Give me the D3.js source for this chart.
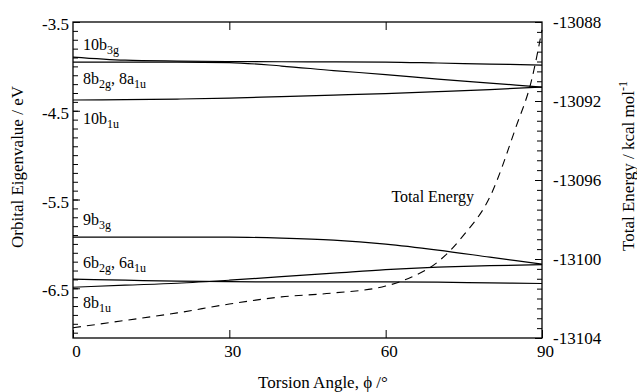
<!DOCTYPE html>
<html><head><meta charset="utf-8">
<script src="https://cdn.jsdelivr.net/npm/d3@7"></script>
<style>
body{margin:0;background:#fff;}
svg text{font-family:"Liberation Serif","DejaVu Serif","Times New Roman",serif !important;fill:#000;}
</style></head>
<body><svg id="c" width="637" height="392"></svg>
<script>
// ---- data ----
const angles = [0,10,20,30,40,50,60,70,80,90];
const orb10b3g = [-3.895,-3.93,-3.94,-3.945,-3.948,-3.949,-3.951,-3.962,-3.974,-3.985];
const orb8b2g  = [-3.951,-3.951,-3.951,-3.957,-3.996,-4.047,-4.092,-4.143,-4.188,-4.233];
const orb10b1u = [-4.379,-4.374,-4.368,-4.357,-4.34,-4.323,-4.306,-4.284,-4.261,-4.233];
const orb9b3g  = [-5.924,-5.924,-5.924,-5.924,-5.935,-5.958,-6.003,-6.07,-6.149,-6.228];
const orb6b2g  = [-6.488,-6.465,-6.443,-6.409,-6.369,-6.33,-6.29,-6.262,-6.245,-6.234];
const orb8b1u  = [-6.397,-6.409,-6.42,-6.426,-6.428,-6.428,-6.428,-6.431,-6.439,-6.446];
const energyAngles = [0,10,20,30,40,50,60,65,70,75,80,85,88,90];
const totalEnergy = [-13103.48,-13103.11,-13102.73,-13102.28,-13101.92,-13101.72,-13101.37,-13100.91,-13100.15,-13098.78,-13096.86,-13093.32,-13090.94,-13088.4];
const xTicks = [0,30,60,90];
const leftMajorTicks = [-3.5,-4.5,-5.5,-6.5];
const rightMajorTicks = [-13104,-13100,-13096,-13092,-13088];
const levelLabels = [
  {main:"10b", sub:"3g", more:"", sub2:"", val:-3.81},
  {main:"8b", sub:"2g", more:", 8a", sub2:"1u", val:-4.2},
  {main:"10b", sub:"1u", more:"", sub2:"", val:-4.65},
  {main:"9b", sub:"3g", more:"", sub2:"", val:-5.789},
  {main:"6b", sub:"2g", more:", 6a", sub2:"1u", val:-6.273},
  {main:"8b", sub:"1u", more:"", sub2:"", val:-6.724}
];

// ---- layout ----
const FONT = '"Liberation Serif","DejaVu Serif","Times New Roman",serif';
const svg = d3.select("#c");
const L=73, R=542, T=22, B=338;
const x = d3.scaleLinear().domain([0,90]).range([L,R]);
const yL = d3.scaleLinear().domain([-7.06,-3.5]).range([B,T]);
const yR = d3.scaleLinear().domain([-13104,-13088]).range([B,T]);

const minorL = d3.range(-35,-71,-1).map(d=>d/10);
const minorR = d3.range(-13104,-13087.9,0.5);

function clean(g){
  g.attr("font-family",FONT);
  g.select(".domain").remove();
  g.selectAll("line").attr("stroke","#000").attr("stroke-width",1);
  g.selectAll("text").attr("font-size",17).style("font-family",FONT);
}

svg.append("g").attr("transform",`translate(${L},0)`)
  .call(d3.axisLeft(yL).tickValues(minorL).tickSize(-5).tickFormat("")).call(clean);
svg.append("g").attr("transform",`translate(${L},0)`)
  .call(d3.axisLeft(yL).tickValues(leftMajorTicks).tickSize(-7).tickPadding(4).tickFormat(d=>d.toFixed(1)))
  .call(clean).selectAll("text").attr("dy","0.45em");

svg.append("g").attr("transform",`translate(${R},0)`)
  .call(d3.axisRight(yR).tickValues(minorR).tickSize(-5).tickFormat("")).call(clean);
svg.append("g").attr("transform",`translate(${R},0)`)
  .call(d3.axisRight(yR).tickValues(rightMajorTicks).tickSize(-7).tickPadding(11).tickFormat(d=>String(d)))
  .call(clean).selectAll("text").attr("dy","0.35em");

svg.append("g").attr("transform",`translate(0,${B})`)
  .call(d3.axisBottom(x).tickValues(xTicks).tickSize(-8).tickPadding(7).tickFormat(d=>String(d)))
  .call(clean).selectAll("text").attr("dx",3);
svg.append("g").attr("transform",`translate(0,${T})`)
  .call(d3.axisTop(x).tickValues([30,60]).tickSize(-8).tickFormat("")).call(clean);

// frame
svg.append("rect").attr("x",L).attr("y",T).attr("width",R-L).attr("height",B-T)
  .attr("fill","none").attr("stroke","#000").attr("stroke-width",1.3);

// orbital lines
const lineL = d3.line().x((d,i)=>x(angles[i])).y(d=>yL(d)).curve(d3.curveMonotoneX);
[orb10b3g,orb8b2g,orb10b1u,orb9b3g,orb6b2g,orb8b1u].forEach(s=>{
  svg.append("path").attr("d",lineL(s)).attr("fill","none").attr("stroke","#000").attr("stroke-width",1.2);
});

// total energy
const lineR = d3.line().x((d,i)=>x(energyAngles[i])).y(d=>yR(d)).curve(d3.curveMonotoneX);
svg.append("path").attr("d",lineR(totalEnergy)).attr("fill","none").attr("stroke","#000")
  .attr("stroke-width",1.1).attr("stroke-dasharray","8,6");

// level labels
levelLabels.forEach(l=>{
  const t = svg.append("text").attr("x",x(0)+10).attr("y",yL(l.val)).attr("font-size",16).style("font-family",FONT);
  t.append("tspan").text(l.main);
  t.append("tspan").attr("font-size",12).attr("dy",4).text(l.sub);
  if(l.more){
    t.append("tspan").attr("dy",-4).text(l.more);
    t.append("tspan").attr("font-size",12).attr("dy",4).text(l.sub2);
  }
});
svg.append("text").attr("x",x(90)-68).attr("y",yR(-13097.1)).attr("font-size",16).style("font-family",FONT)
  .attr("text-anchor","end").text("Total Energy");

// axis titles
svg.append("text").attr("transform",`translate(23,167) rotate(-90)`).attr("text-anchor","middle")
  .attr("font-size",17).style("font-family",FONT).text("Orbital Eigenvalue / eV");
const rt = svg.append("text").attr("transform",`translate(634,166) rotate(-90)`).attr("text-anchor","middle")
  .attr("font-size",17).style("font-family",FONT);
rt.append("tspan").text("Total Energy / kcal mol");
rt.append("tspan").attr("font-size",12).attr("dy",-7).text("-1");
svg.append("text").attr("x",323).attr("y",388).attr("text-anchor","middle").attr("font-size",17).style("font-family",FONT)
  .text("Torsion Angle, ϕ /°");
</script></body></html>
